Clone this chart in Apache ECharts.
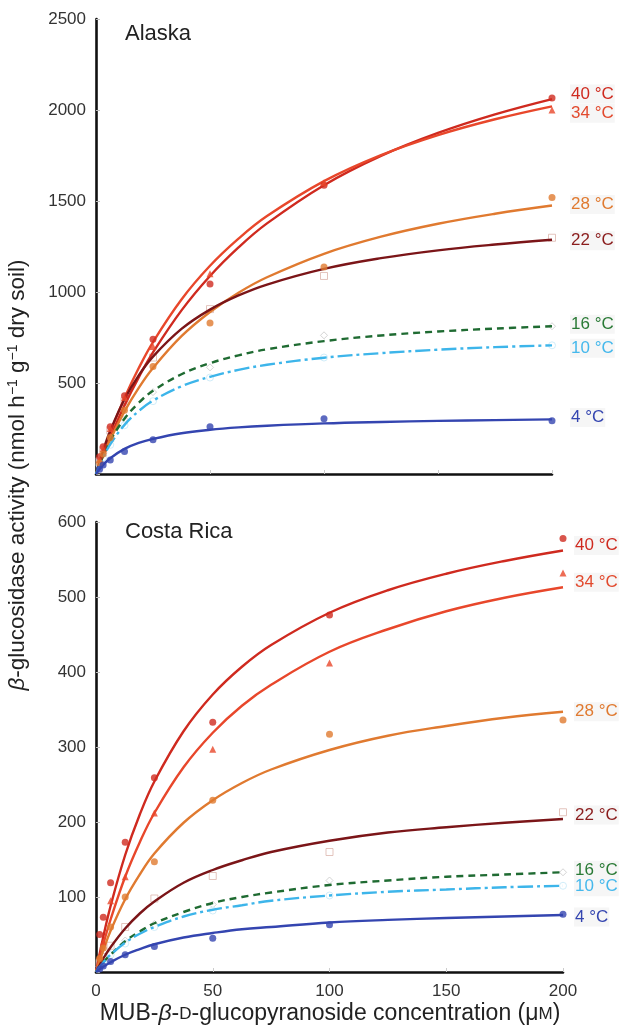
<!DOCTYPE html>
<html>
<head>
<meta charset="utf-8">
<script src="https://cdn.jsdelivr.net/npm/echarts@6/dist/echarts.min.js"></script>
<style>html,body{margin:0;padding:0;background:#fff;}#c{width:619px;height:1032px;}</style>
</head>
<body>
<div id="c"></div>
<script>
// ---- data ----
const temps = ['40 °C', '34 °C', '28 °C', '22 °C', '16 °C', '10 °C', '4 °C'];
const obsConc = [1.5625, 3.125, 6.25, 12.5, 25, 50, 100, 200];
const fitConc = [0, 3.125, 6.25, 12.5, 18.75, 25, 37.5, 50, 62.5, 75, 100, 125, 150, 175, 200];
const xTicks = [0, 50, 100, 150, 200];
const yTicksAlaska = [500, 1000, 1500, 2000, 2500];
const yTicksCosta = [100, 200, 300, 400, 500, 600];

// Alaska observed
const ak40Obs = [95, 150, 260, 430, 740, 1044, 1586, 2066];
const ak34Obs = [80, 140, 250, 420, 700, 1100, 1600, 2000];
const ak28Obs = [60, 110, 200, 350, 590, 829, 1138, 1519];
const ak22Obs = [70, 130, 240, 400, 640, 906, 1088, 1298];
const ak16Obs = [55, 100, 180, 300, 450, 586, 762, 812];
const ak10Obs = [48, 90, 160, 268, 400, 530, 640, 707];
const ak4Obs  = [26, 50, 77, 123, 188, 260, 304, 293];
// Alaska fitted curves (at fitConc)
const ak40Fit = [0, 104, 201, 377, 531, 668, 899, 1088, 1245, 1377, 1587, 1748, 1874, 1976, 2060];
const ak34Fit = [0, 118, 227, 418, 582, 725, 959, 1144, 1293, 1417, 1609, 1752, 1862, 1949, 2020];
const ak28Fit = [0, 100, 189, 344, 473, 582, 757, 890, 996, 1081, 1210, 1304, 1375, 1430, 1475];
const ak22Fit = [0, 129, 238, 411, 542, 645, 797, 903, 981, 1041, 1127, 1186, 1229, 1261, 1287];
const ak16Fit = [0, 101, 183, 304, 391, 457, 548, 609, 652, 685, 730, 761, 783, 799, 812];
const ak10Fit = [0, 91, 163, 270, 346, 403, 482, 534, 572, 600, 639, 664, 683, 697, 707];
const ak4Fit  = [0, 50, 87, 138, 171, 193, 224, 243, 256, 265, 278, 286, 292, 296, 300];

// Costa Rica observed
const cr40Obs = [50, 73, 119, 173, 259, 333, 476, 578];
const cr34Obs = [22, 40, 95, 127, 212, 297, 412, 532];
const cr28Obs = [18, 32, 60, 100, 147, 229, 317, 336];
const cr22Obs = [12, 20, 35, 60, 98, 128, 160, 213];
const cr16Obs = [7, 13, 24, 42, 64, 90, 122, 133];
const cr10Obs = [7, 12, 23, 38, 60, 82, 102, 115];
const cr4Obs  = [4, 8, 14, 23, 34, 45, 63, 77];
// Costa Rica fitted curves
const cr40Fit = [0, 47, 88, 156, 210, 254, 321, 370, 407, 436, 479, 509, 531, 548, 562];
const cr34Fit = [0, 37, 70, 127, 173, 212, 273, 319, 355, 383, 427, 457, 481, 499, 513];
const cr28Fit = [0, 29, 55, 97, 130, 158, 199, 229, 252, 270, 296, 315, 328, 339, 347];
const cr22Fit = [0, 18, 33, 58, 78, 94, 119, 136, 149, 160, 175, 186, 193, 199, 204];
const cr16Fit = [0, 13, 23, 41, 54, 65, 80, 92, 100, 106, 116, 122, 127, 130, 133];
const cr10Fit = [0, 12.5, 23, 39, 51, 60, 74, 83, 89, 95, 102, 107, 110, 113, 115];
const cr4Fit  = [0, 7, 13, 23, 30.5, 37, 46, 52, 57, 60, 66, 69.5, 72, 74, 76];

// ---- styles ----
const FONT = '"Liberation Sans", Arial, Helvetica, sans-serif';
const styles = [
  {line: '#cf2a1f', lab: '#cf2a1f', sym: 'circle', fill: '#cf2a1f', border: '#cf2a1f', type: 'solid'},
  {line: '#e8472b', lab: '#e24a2e', sym: 'triangle', fill: '#e8472b', border: '#e8472b', type: 'solid'},
  {line: '#e07a30', lab: '#e07a30', sym: 'circle', fill: '#e07a30', border: '#e07a30', type: 'solid'},
  {line: '#7b1518', lab: '#8a1c1c', sym: 'rect', fill: '#ffffff', border: '#dcb5ad', type: 'solid'},
  {line: '#1f6b32', lab: '#2a7a36', sym: 'diamond', fill: '#ffffff', border: '#c9c9c9', type: [7, 5]},
  {line: '#3db5ea', lab: '#45b8ec', sym: 'circle', fill: '#ffffff', border: '#c5e8f7', type: [15, 4, 3, 4]},
  {line: '#3445b0', lab: '#3445b0', sym: 'circle', fill: '#3445b0', border: '#3445b0', type: 'solid'}
];
const akObs = [ak40Obs, ak34Obs, ak28Obs, ak22Obs, ak16Obs, ak10Obs, ak4Obs];
const akFit = [ak40Fit, ak34Fit, ak28Fit, ak22Fit, ak16Fit, ak10Fit, ak4Fit];
const crObs = [cr40Obs, cr34Obs, cr28Obs, cr22Obs, cr16Obs, cr10Obs, cr4Obs];
const crFit = [cr40Fit, cr34Fit, cr28Fit, cr22Fit, cr16Fit, cr10Fit, cr4Fit];
const akLabelOff = [[10, -5], [10, 7], [10, -1], [10, 1], [10, -2], [10, 3], [10, -2]];
const crLabelOff = [[3, -5], [3, -5], [3, 0], [3, -4], [3, -2], [3, 1], [3, 2]];

function pairs(xs, ys) { return xs.map((x, i) => [x, ys[i]]); }

const series = [];
function addPanel(obs, fit, idx, offs) {
  for (let i = 0; i < temps.length; i++) {
    const s = styles[i];
    series.push({
      type: 'line', xAxisIndex: idx, yAxisIndex: idx,
      data: pairs(fitConc, fit[i]), smooth: 0.4,
      showSymbol: false, symbol: 'none', silent: true, z: 3,
      lineStyle: {color: s.line, width: 2.4, type: s.type},
      endLabel: {show: true, formatter: temps[i], color: s.lab, fontSize: 17,
        fontFamily: FONT, offset: offs[i], backgroundColor: '#f6f6f6', padding: [1, 1]}
    });
    const filled = s.fill !== '#ffffff';
    series.push({
      type: 'scatter', xAxisIndex: idx, yAxisIndex: idx,
      data: pairs(obsConc, obs[i]), symbol: s.sym,
      symbolSize: 7, z: filled ? 4 : 2,
      itemStyle: {color: s.fill, borderColor: s.border, borderWidth: filled ? 0 : 1}
    });
  }
}
addPanel(akObs, akFit, 0, akLabelOff);
addPanel(crObs, crFit, 1, crLabelOff);

function yAxis(gridIndex, ticks) {
  return {
    type: 'value', gridIndex, min: 0, max: ticks[ticks.length - 1], interval: ticks[0],
    axisLine: {show: true, lineStyle: {color: '#111', width: 2.6}},
    axisTick: {show: true, inside: true, length: 4, lineStyle: {color: '#bbb'}},
    splitLine: {show: false},
    axisLabel: {color: '#333', fontSize: 17, fontFamily: FONT, margin: 10,
      formatter: v => (v === 0 ? '' : String(v))}
  };
}
function xAxis(gridIndex, showLabels) {
  return {
    type: 'value', gridIndex, min: xTicks[0], max: xTicks[xTicks.length - 1], interval: xTicks[1] - xTicks[0],
    axisLine: {show: true, onZero: false, lineStyle: {color: '#111', width: 2.6}},
    axisTick: {show: true, inside: true, length: 4, lineStyle: {color: '#ccc'}},
    splitLine: {show: false},
    axisLabel: {show: showLabels, color: '#333', fontSize: 17, fontFamily: FONT, margin: 11}
  };
}

const chart = echarts.init(document.getElementById('c'), null, {renderer: 'canvas'});
chart.setOption({
  animation: false,
  backgroundColor: '#ffffff',
  grid: [
    {left: 96, top: 19, width: 456, height: 455},
    {left: 96, top: 522, width: 467, height: 450}
  ],
  xAxis: [xAxis(0, false), xAxis(1, true)],
  yAxis: [yAxis(0, yTicksAlaska), yAxis(1, yTicksCosta)],
  series,
  graphic: [
    {type: 'text', left: 125, top: 23, style: {text: 'Alaska', fontSize: 22, fontFamily: FONT, fill: '#222'}},
    {type: 'text', left: 125, top: 521, style: {text: 'Costa Rica', fontSize: 22, fontFamily: FONT, fill: '#222'}},
    {type: 'text', x: 18, y: 475, rotation: Math.PI / 2,
      style: {
        text: '{i|β}-glucosidase activity (nmol h{s|−1} g{s|−1} dry soil)',
        fontSize: 22.5, fontFamily: FONT, fill: '#222', align: 'center', verticalAlign: 'middle',
        rich: {
          i: {fontStyle: 'italic', fontSize: 22.5, fontFamily: FONT, fill: '#222'},
          s: {fontSize: 14, fontFamily: FONT, fill: '#222', verticalAlign: 'top', lineHeight: 15, padding: [0, 0, 10, 0]}
        }
      }},
    {type: 'text', x: 330, y: 1014,
      style: {
        text: 'MUB-{i|β}-{sc|D}-glucopyranoside concentration (μ{sc|M})',
        fontSize: 23, fontFamily: FONT, fill: '#222', align: 'center', verticalAlign: 'middle',
        rich: {
          i: {fontStyle: 'italic', fontSize: 23, fontFamily: FONT, fill: '#222'},
          sc: {fontSize: 17, fontFamily: FONT, fill: '#222'}
        }
      }}
  ]
});
</script>
</body>
</html>
